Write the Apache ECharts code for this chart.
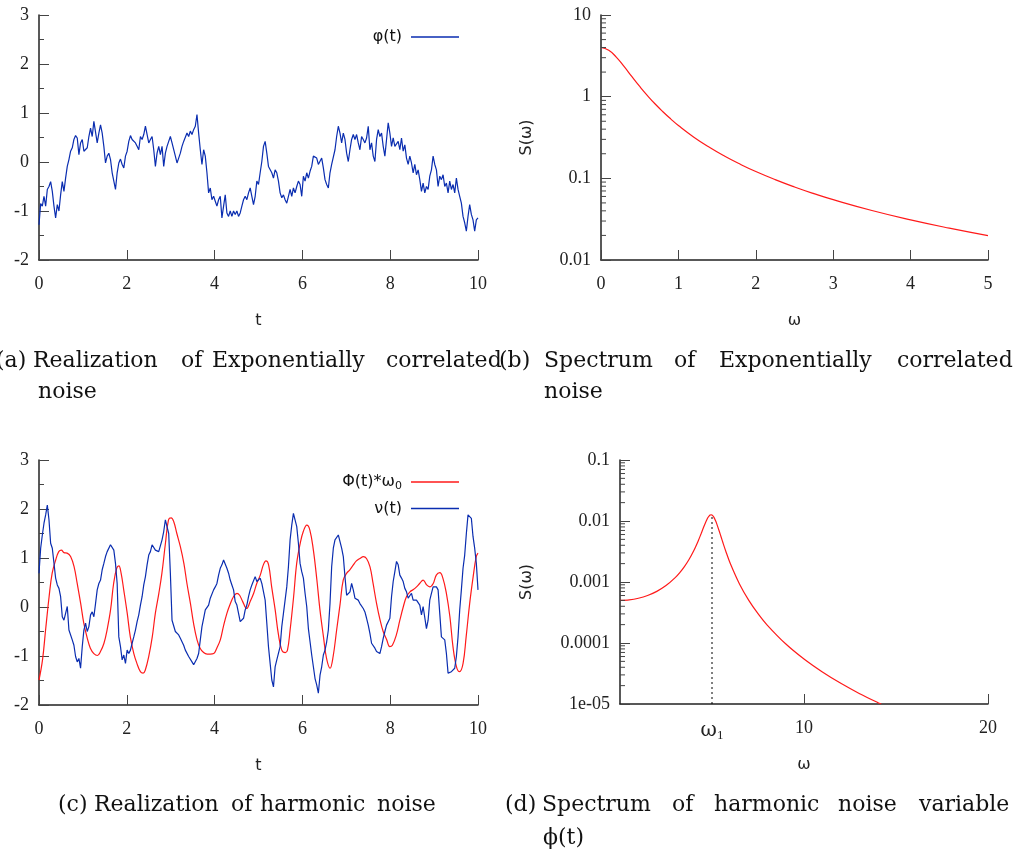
<!DOCTYPE html>
<html>
<head>
<meta charset="utf-8">
<script src="https://cdn.jsdelivr.net/npm/echarts@6/dist/echarts.min.js"></script>
<style>
html,body{margin:0;padding:0;background:#fff;}
#main{width:1019px;height:855px;}
</style>
</head>
<body>
<div id="main"></div>
<script>
// ---------- DATA ----------
// (a) realization of exponentially correlated noise, uniform time grid 0..10
const tEnd = 10;
const phiValues = [
-1.28,-0.85,-0.90,-0.70,-0.90,-0.56,-0.50,-0.40,-0.60,-0.90,
-1.14,-0.87,-1.00,-0.67,-0.40,-0.60,-0.33,-0.09,0.05,0.22,
0.29,0.46,0.54,0.49,0.15,0.39,0.46,0.22,0.18,0.29,
0.52,0.69,0.52,0.83,0.80,0.39,0.59,0.76,0.59,0.32,
-0.02,0.12,0.18,0.05,-0.22,-0.39,-0.56,-0.22,-0.02,0.06,
-0.05,-0.12,0.12,0.22,0.42,0.54,0.46,0.49,0.39,0.32,
0.25,0.52,0.46,0.56,0.73,0.76,0.39,0.46,0.52,0.25,
-0.09,0.18,0.32,0.15,0.32,-0.09,0.18,0.32,0.42,0.52,
0.39,0.35,0.12,-0.02,0.08,0.18,0.32,0.42,0.39,0.59,
0.52,0.63,0.56,0.66,0.73,0.97,0.59,0.25,-0.05,0.25,
0.12,-0.22,-0.63,-0.53,-0.77,-0.70,-0.80,-0.90,-0.77,-0.70,
-1.14,-0.90,-0.67,-1.04,-1.11,-1.00,-1.11,-1.00,-1.07,-1.00,
-1.11,-1.04,-0.90,-0.77,-0.70,-0.77,-0.63,-0.53,-0.70,-0.87,
-0.70,-0.39,-0.46,-0.22,0.01,0.32,0.42,0.18,-0.09,-0.05,
-0.22,-0.33,-0.16,-0.22,-0.39,-0.63,-0.73,-0.67,-0.77,-0.84,
-0.70,-0.56,-0.70,-0.53,-0.63,-0.50,-0.39,-0.46,-0.70,-0.29,
-0.39,-0.22,-0.33,-0.19,-0.09,0.12,0.15,0.08,-0.05,-0.02,
0.08,-0.12,-0.36,-0.46,-0.53,-0.22,-0.05,-0.02,0.25,0.52,
0.73,0.59,0.39,0.59,0.46,0.18,0.01,0.25,0.46,0.56,
0.46,0.56,0.39,0.25,0.52,0.46,0.39,0.49,0.73,0.25,
0.39,0.12,0.01,0.46,0.66,0.52,0.59,0.32,0.12,0.46,
0.80,0.59,0.32,0.49,0.32,0.29,0.42,0.25,0.49,0.22,
0.35,0.08,-0.05,0.12,-0.02,-0.22,-0.05,-0.26,-0.16,-0.36,
-0.60,-0.43,-0.63,-0.50,-0.56,-0.29,-0.16,0.12,-0.05,-0.16,
-0.50,-0.29,-0.36,-0.26,-0.50,-0.43,-0.63,-0.39,-0.56,-0.46,
-0.63,-0.33,-0.56,-0.70,-0.84,-1.11,-1.24,-1.41,-1.11,-0.87,
-1.07,-1.18,-1.41,-1.18,-1.14
];

// (b) spectrum of exponentially correlated noise
const omegaB = [0,0.1,0.2,0.3,0.4,0.5,0.6,0.7,0.8,0.9,1.0,1.2,1.4,1.6,1.8,2.0,2.25,2.5,2.75,3,3.5,4,4.5,5];
const specB  = [4,3.70,3.03,2.33,1.754,1.333,1.031,0.813,0.654,0.535,0.444,0.3195,0.2398,0.1862,0.1486,0.1212,0.0964,0.0784,0.0650,0.0548,0.0404,0.0310,0.02454,0.0199];

// (c) harmonic noise: nu(t) on uniform grid 0..10, Phi(t)*w0 at given times
const nuValues = [
0.69,1.20,1.47,1.71,1.88,2.08,1.78,1.30,1.20,1.16,
0.59,0.45,0.38,0.21,-0.20,-0.27,-0.13,0.01,-0.47,-0.44,
-0.67,-0.78,-1.01,-1.12,-1.05,-1.25,-0.81,-0.47,-0.33,-0.50,
-0.40,-0.16,-0.10,-0.20,0.07,0.35,0.48,0.55,0.76,0.89,
1.03,1.13,1.16,1.27,1.23,1.16,0.89,0.48,-0.61,-0.81,
-1.08,-0.98,-1.15,-0.88,-0.95,-0.88,-0.74,-0.61,-0.47,-0.30,
-0.16,0.04,0.21,0.45,0.62,0.86,1.06,1.13,1.27,1.30,
1.16,1.13,1.13,1.10,1.37,1.54,1.78,1.78,1.50,0.69,
-0.27,-0.27,-0.50,-0.54,-0.57,-0.64,-0.67,-0.78,-0.88,-0.91,
-1.01,-1.05,-1.12,-1.18,-1.15,-1.05,-0.95,-0.67,-0.40,-0.23,
-0.06,-0.03,0.04,0.18,0.22,0.35,0.41,0.48,0.65,0.79,
0.86,0.96,0.99,0.79,0.69,0.55,0.45,0.35,0.11,0.04,
-0.13,-0.30,-0.33,-0.23,-0.06,0.04,0.21,0.35,0.45,0.48,
0.62,0.52,0.48,0.59,
0.48,0.52,0.14,-0.33,-0.81,-1.15,-1.49,-1.63,-1.22,-1.08,
-1.05,-0.81,-0.40,-0.13,0.14,0.41,0.82,1.37,1.67,1.91,
1.88,1.64,1.30,0.89,0.72,0.59,0.28,0.01,-0.44,-0.71,
-0.98,-1.22,-1.46,-1.59,-1.76,-1.39,-1.22,-0.98,-0.88,-0.71,
-0.47,0.07,0.82,1.20,1.37,1.40,1.47,1.44,1.20,1.03,
0.62,0.24,0.21,0.31,0.48,0.35,0.18,0.14,0.14,0.07,
0.11,-0.03,-0.10,-0.23,-0.37,-0.54,-0.74,-0.78,-0.84,-0.91,
-0.95,-0.95,-0.81,-0.64,-0.50,-0.37,-0.40,-0.23,0.21,0.52,
0.72,0.93,0.86,0.65,0.59,0.52,0.38,0.31,0.18,0.18,
0.28,0.14,0.14,0.14,0.11,0.04,-0.16,0.01,0.01,-0.44,
-0.27,0.14,0.28,0.41,0.41,0.41,0.35,-0.13,-0.61,-0.61,
-0.67,-0.95,-1.35,-1.39,-1.32,-1.32,-1.25,-1.01,-0.61,-0.06,
0.35,0.79,1.06,1.50,1.88,1.91,1.81,1.44,1.20,0.89,
0.35
];
const phiT = [0.00,0.08,0.15,0.23,0.30,0.38,0.45,0.51,0.57,0.64,0.72,0.80,0.87,0.95,1.02,1.10,1.17,1.25,1.33,1.40,1.48,1.55,1.63,1.70,1.77,1.82,1.87,1.93,2.01,2.08,2.16,2.23,2.31,2.37,2.42,2.50,2.58,2.65,2.73,2.80,2.88,2.95,3.01,3.07,3.14,3.22,3.30,3.37,3.45,3.52,3.60,3.67,3.75,3.83,3.90,3.98,4.05,4.13,4.20,4.28,4.36,4.43,4.51,4.57,4.64,4.73,4.81,4.89,4.96,5.04,5.11,5.17,5.23,5.30,5.38,5.45,5.53,5.61,5.66,5.72,5.80,5.87,5.95,6.02,6.10,6.17,6.25,6.33,6.40,6.48,6.55,6.63,6.70,6.78,6.86,6.93,7.01,7.08,7.16,7.23,7.31,7.39,7.46,7.54,7.61,7.69,7.77,7.84,7.92,7.99,8.05,8.14,8.22,8.30,8.37,8.45,8.52,8.60,8.67,8.75,8.83,8.90,8.98,9.05,9.13,9.20,9.28,9.36,9.43,9.51,9.58,9.66,9.73,9.81,9.89,9.96,10.00];
const phiW = [-1.49,-1.08,-0.47,0.21,0.69,0.96,1.13,1.16,1.11,1.10,1.03,0.82,0.48,0.07,-0.33,-0.64,-0.84,-0.95,-0.99,-0.91,-0.74,-0.47,-0.06,0.48,0.79,0.84,0.69,0.35,-0.13,-0.61,-0.95,-1.15,-1.32,-1.35,-1.29,-1.01,-0.61,-0.13,0.28,0.69,1.30,1.78,1.82,1.74,1.50,1.23,0.89,0.48,0.07,-0.33,-0.67,-0.84,-0.93,-0.96,-0.96,-0.95,-0.84,-0.67,-0.40,-0.13,0.07,0.21,0.28,0.24,0.11,-0.03,0.11,0.28,0.48,0.65,0.86,0.94,0.86,0.41,-0.06,-0.54,-0.88,-0.93,-0.88,-0.47,0.21,0.89,1.30,1.54,1.67,1.57,1.16,0.55,-0.06,-0.61,-1.05,-1.25,-1.01,-0.47,0.07,0.55,0.69,0.76,0.86,0.94,0.99,1.03,0.99,0.82,0.48,0.07,-0.27,-0.50,-0.67,-0.81,-0.78,-0.57,-0.27,0.01,0.21,0.31,0.35,0.41,0.48,0.55,0.45,0.41,0.48,0.65,0.70,0.59,0.28,-0.20,-0.81,-1.22,-1.32,-1.15,-0.61,0.07,0.62,1.03,1.10];

// (d) spectrum of harmonic noise variable
const omegaD = [0,0.5,1,1.5,2,2.5,3,3.25,3.5,3.75,4,4.25,4.4,4.5,4.6,4.75,4.8,4.85,4.9,4.95,5,5.05,5.1,5.2,5.25,5.4,5.5,5.6,5.75,6,6.5,7,7.5,8,9,10,11,12,13,14,14.2];
const specD  = [5.0e-4,5.10e-4,5.42e-4,6.01e-4,7.02e-4,8.73e-4,1.179e-3,1.427e-3,1.788e-3,2.338e-3,3.22e-3,4.72e-3,6.11e-3,7.30e-3,8.70e-3,1.096e-2,1.163e-2,1.216e-2,1.250e-2,1.263e-2,1.25e-2,1.213e-2,1.156e-2,1.002e-2,9.16e-3,6.72e-3,5.41e-3,4.35e-3,3.19e-3,1.99e-3,9.20e-4,5.0e-4,3.03e-4,1.97e-4,9.71e-5,5.46e-5,3.35e-5,2.18e-5,1.49e-5,1.06e-5,1.0e-5];
const omega1 = 5;
const peakS = 1.263e-2;

// tick labels
const logLabelsD = ['1e-05','0.0001','0.001','0.01','0.1'];
const xLabelsD = {5:'{w|ω}{s|1}', 10:'10', 20:'20'};
const decadesB = [0.01,0.1,1];
const decadesD = [1e-5,1e-4,1e-3,1e-2];
const minorMult = [2,3,4,5,6,7,8,9];

// ---------- helpers ----------
function grid(values){ const n = values.length; return values.map((v,i)=>[i*tEnd/(n-1), v]); }
function pairs(xs, ys){ return xs.map((x,i)=>[x, ys[i]]); }

const BLUE = '#0a2db0', RED = '#ff1a1a', AXC = '#222';
const tickFont = 'Liberation Serif', sans = 'DejaVu Sans';
const TF = 18;

function xAx(gi, min, max, interval, name, extra){
  return Object.assign({
    gridIndex: gi, type:'value', min, max, interval, name,
    nameLocation:'middle', nameGap:53,
    nameTextStyle:{fontFamily:sans, fontSize:16, color:AXC},
    axisLine:{show:true, onZero:false, lineStyle:{color:AXC, width:1.5}},
    axisTick:{show:true, inside:true, length:10, lineStyle:{color:'#444', width:1}},
    axisLabel:{fontFamily:tickFont, fontSize:TF, color:AXC, margin:15},
    splitLine:{show:false}
  }, extra||{});
}
function yAx(gi, extra){
  return Object.assign({
    gridIndex: gi,
    nameLocation:'middle', nameGap:66, nameRotate:90,
    nameTextStyle:{fontFamily:sans, fontSize:16, color:AXC},
    axisLine:{show:true, onZero:false, lineStyle:{color:AXC, width:1.5}},
    axisTick:{show:true, inside:true, length:10, lineStyle:{color:'#444', width:1}},
    axisLabel:{fontFamily:tickFont, fontSize:TF, color:AXC, margin:10},
    splitLine:{show:false}
  }, extra);
}
function minorTickSeries(xi, xPos, decades){
  const data = [];
  decades.forEach(d => minorMult.forEach(m => data.push([xPos, d*m])));
  return {
    type:'custom', xAxisIndex:xi, yAxisIndex:xi, silent:true, clip:false, z:5,
    data,
    renderItem:(p, api)=>{
      const c = api.coord([api.value(0), api.value(1)]);
      return {type:'line', shape:{x1:c[0], y1:c[1], x2:c[0]+5, y2:c[1]}, style:{stroke:'#444', lineWidth:1}};
    }
  };
}

// caption words [text, x, y]
const captionWords = [
  ['(a)',-4,361],['Realization',33,361],['of',181,361],['Exponentially',212,361],['correlated',386,361],
  ['(b)',499,361],['Spectrum',544,361],['of',674,361],['Exponentially',719,361],['correlated',897,361],
  ['noise',38,392],['noise',544,392],
  ['(c)',58,805],['Realization',94,805],['of',231,805],['harmonic',260,805],['noise',377,805],
  ['(d)',505,805],['Spectrum',542,805],['of',672,805],['harmonic',714,805],['noise',838,805],['variable',919,805],
  ['ϕ(t)',543,838]
];

const chart = echarts.init(document.getElementById('main'), null, {renderer:'canvas'});
const legendCommon = {right:560, align:'right', orient:'vertical', icon:'rect', itemWidth:48, itemHeight:1.5, padding:0};
const option = {
  animation:false,
  backgroundColor:'#fff',
  grid:[
    {left:39, top:15, width:439, height:245},
    {left:601, top:15, width:387, height:245},
    {left:39, top:460, width:439, height:245},
    {left:620, top:460, width:368, height:244}
  ],
  xAxis:[
    xAx(0, 0, 10, 2, 't'),
    xAx(1, 0, 5, 1, 'ω'),
    xAx(2, 0, 10, 2, 't'),
    xAx(3, 0, 20, 5, 'ω', {
      axisTick:{show:true, inside:true, length:10, lineStyle:{color:'#444', width:1}, customValues:[10,20]},
      axisLabel:{fontFamily:tickFont, fontSize:TF, color:AXC, margin:15, customValues:[5,10,20],
        formatter:(v)=> xLabelsD[Math.round(v)] || '',
        rich:{w:{fontFamily:'DejaVu Serif', fontSize:20, color:AXC}, s:{fontFamily:tickFont, fontSize:13, color:AXC, padding:[10,0,0,0]}}}
    })
  ],
  yAxis:[
    yAx(0, {type:'value', min:-2, max:3, interval:1, minorTick:{show:true, splitNumber:2, length:5, lineStyle:{color:'#444', width:1}}}),
    yAx(1, {type:'log', logBase:10, min:0.01, max:10, name:'S(ω)'}),
    yAx(2, {type:'value', min:-2, max:3, interval:1, minorTick:{show:true, splitNumber:2, length:5, lineStyle:{color:'#444', width:1}}}),
    yAx(3, {type:'log', logBase:10, min:1e-5, max:0.1, name:'S(ω)', nameGap:85,
      axisLabel:{fontFamily:tickFont, fontSize:TF, color:AXC, margin:10,
        formatter:(v)=> logLabelsD[Math.round(Math.log10(v))+5]}})
  ],
  legend:[
    Object.assign({data:['φ(t)'], top:29,
     textStyle:{fontFamily:sans, fontSize:16, color:'#111', padding:[0,4,0,0]}}, legendCommon),
    Object.assign({data:['Φ(t)*ω0','ν(t)'], top:474, itemGap:9,
     formatter:(n)=> n==='Φ(t)*ω0' ? 'Φ(t)*ω{sub|0}' : n,
     textStyle:{fontFamily:sans, fontSize:16, color:'#111', padding:[0,4,0,0],
       rich:{sub:{fontFamily:sans, fontSize:11, color:'#111', padding:[8,0,0,0]}}}}, legendCommon)
  ],
  series:[
    {name:'φ(t)', type:'line', xAxisIndex:0, yAxisIndex:0, data:grid(phiValues), showSymbol:false,
     lineStyle:{color:BLUE, width:1.2}, itemStyle:{color:BLUE}},
    {name:'Sb', type:'line', xAxisIndex:1, yAxisIndex:1, data:pairs(omegaB, specB), showSymbol:false, smooth:true,
     lineStyle:{color:RED, width:1.2}, itemStyle:{color:RED}},
    minorTickSeries(1, 0, decadesB),
    {name:'Φ(t)*ω0', type:'line', xAxisIndex:2, yAxisIndex:2, data:pairs(phiT, phiW), showSymbol:false, smooth:0.4,
     lineStyle:{color:RED, width:1.2}, itemStyle:{color:RED}},
    {name:'ν(t)', type:'line', xAxisIndex:2, yAxisIndex:2, data:grid(nuValues), showSymbol:false,
     lineStyle:{color:BLUE, width:1.2}, itemStyle:{color:BLUE}},
    {name:'Sd', type:'line', xAxisIndex:3, yAxisIndex:3, data:pairs(omegaD, specD), showSymbol:false, smooth:0.3,
     lineStyle:{color:RED, width:1.2}, itemStyle:{color:RED}},
    {name:'peak', type:'line', xAxisIndex:3, yAxisIndex:3, data:[[omega1, 1e-5],[omega1, peakS]], showSymbol:false,
     lineStyle:{color:'#000', width:1, type:[2,3]}},
    minorTickSeries(3, 0, decadesD)
  ],
  graphic: captionWords.map(w => ({
    type:'text', x:w[1], y:w[2], silent:true,
    style:{text:w[0], font:'22px "DejaVu Serif"', fill:'#111', textAlign:'left', textVerticalAlign:'middle'}
  }))
};
chart.setOption(option);
</script>
</body>
</html>
